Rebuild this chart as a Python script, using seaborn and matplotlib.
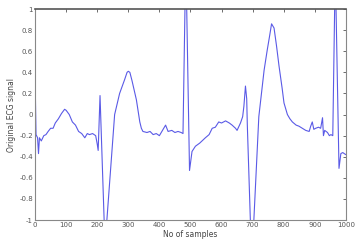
"""Recreate the original ECG signal trace (MATLAB-style plot) with seaborn."""

import matplotlib
matplotlib.use("Agg")
import matplotlib.pyplot as plt
import pandas as pd
import seaborn as sns

# sample index and signal value
samples = [
    0, 3, 8, 11, 14, 20, 28, 35, 42, 50, 58, 65, 75, 85, 95, 100, 110, 120, 130,
    140, 150, 160, 168, 175, 185, 195, 200, 203, 209, 225, 231, 240, 256, 272,
    288, 296, 300, 305, 312, 326, 337, 342, 347, 360, 370, 380, 390, 400, 410,
    420, 428, 440, 450, 460, 470, 476, 485, 497, 505, 516, 530, 548, 560, 570,
    580, 591, 600, 613, 625, 634, 645, 650, 661, 668, 672, 677, 681, 683, 696,
    704, 720, 737, 747, 755, 761, 769, 777, 785, 795, 801, 812, 820, 828, 840,
    849, 860, 871, 882, 887, 892, 897, 903, 912, 919, 925, 928, 932, 941, 947,
    952, 958, 966, 978, 984, 990, 1000,
]
ecg = [
    0.36, -0.19, -0.22, -0.37, -0.22, -0.25, -0.20, -0.19, -0.16, -0.13, -0.13,
    -0.08, -0.04, 0.01, 0.05, 0.04, 0.00, -0.07, -0.10, -0.16, -0.18, -0.22,
    -0.18, -0.19, -0.18, -0.20, -0.28, -0.34, 0.18, -1.25, -1.00, -0.64, 0.00,
    0.20, 0.33, 0.40, 0.41, 0.40, 0.32, 0.14, -0.07, -0.13, -0.16, -0.17,
    -0.16, -0.19, -0.18, -0.20, -0.15, -0.10, -0.16, -0.15, -0.17, -0.16,
    -0.17, -0.18, 1.50, -0.53, -0.35, -0.30, -0.27, -0.22, -0.19, -0.13,
    -0.12, -0.07, -0.08, -0.06, -0.08, -0.10, -0.13, -0.15, -0.08, -0.02,
    0.08, 0.27, 0.15, -0.10, -1.30, -1.00, -0.02, 0.42, 0.61, 0.75, 0.86,
    0.82, 0.65, 0.46, 0.25, 0.11, 0.00, -0.04, -0.07, -0.10, -0.11, -0.13,
    -0.15, -0.16, -0.11, -0.07, -0.14, -0.13, -0.12, -0.13, -0.03, -0.20,
    -0.15, -0.17, -0.20, -0.19, -0.20, 1.40, -0.51, -0.37, -0.36, -0.38,
]

x_ticks = [0, 100, 200, 300, 400, 500, 600, 700, 800, 900, 1000]
y_ticks = [-1, -0.8, -0.6, -0.4, -0.2, 0, 0.2, 0.4, 0.6, 0.8, 1]
y_tick_labels = ["-1", "-0.8", "-0.6", "-0.4", "-0.2", "0", "0.2", "0.4", "0.6", "0.8", "1"]


def main() -> None:
    sns.set_style("white")
    df = pd.DataFrame({"sample": samples, "value": ecg})

    fig = plt.figure(figsize=(3.58, 2.44), dpi=100)
    ax = fig.add_axes([0.098, 0.098, 0.868, 0.865])
    sns.lineplot(data=df, x="sample", y="value", ax=ax, color="#5a5ae6",
                 linewidth=0.8, estimator=None, sort=False)

    ax.set_xlim(0, 1000)
    ax.set_ylim(-1, 1)
    ax.set_xticks(x_ticks)
    ax.set_yticks(y_ticks)
    ax.set_yticklabels(y_tick_labels)
    ax.tick_params(direction="in", length=2, width=0.6, labelsize=5,
                   colors="#555555", top=True, right=True, pad=1.5)
    for side in ("left", "bottom", "right"):
        ax.spines[side].set_color("#888888")
        ax.spines[side].set_linewidth(0.8)
    ax.spines["top"].set_color("#555555")
    ax.spines["top"].set_linewidth(1.2)

    ax.set_xlabel("No of samples", fontsize=5.5, color="#444444", labelpad=1)
    ax.set_ylabel("Original ECG signal", fontsize=5.5, color="#444444", labelpad=2)

    fig.savefig("out.png", dpi=100)
    plt.close(fig)


if __name__ == "__main__":
    main()
